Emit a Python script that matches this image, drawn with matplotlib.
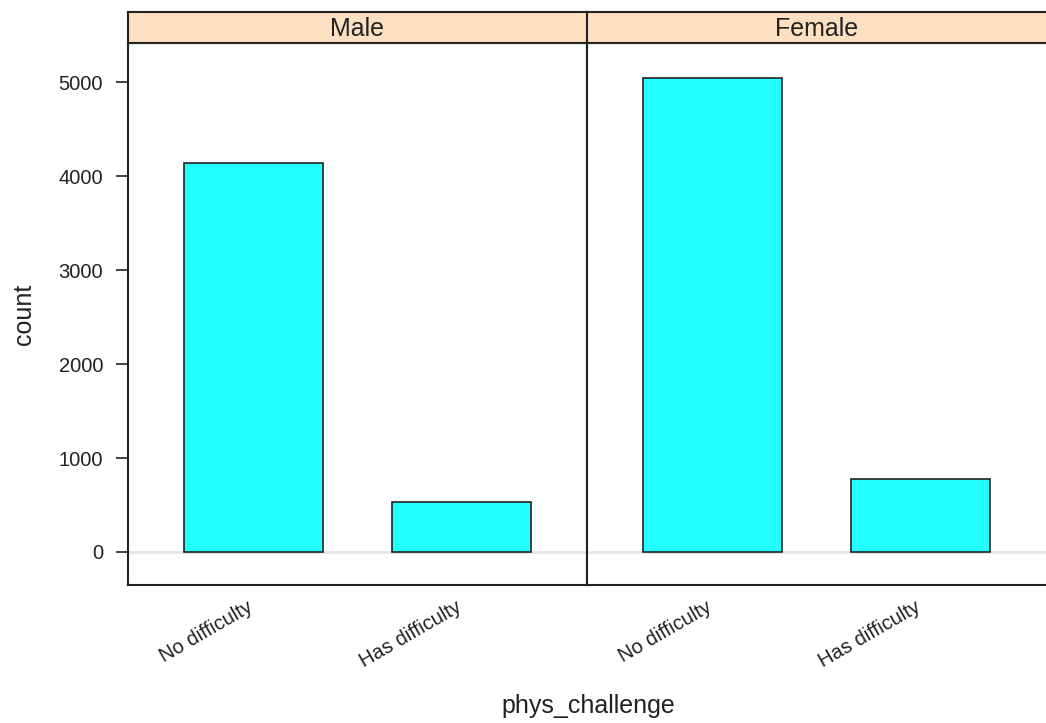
import numpy as np
import matplotlib
matplotlib.use('Agg')
import matplotlib.pyplot as plt

plt.rcParams['font.family'] = ['Liberation Sans', 'DejaVu Sans']

##############
# Chart data
##############
panels = ['Male', 'Female']
categories = ['No difficulty', 'Has difficulty']
male_counts = [4140, 535]
female_counts = [5045, 778]
yticks = [0, 1000, 2000, 3000, 4000, 5000]

counts = [male_counts, female_counts]

bar_color = '#21FFFF'
strip_color = '#FDDFC1'

W, H = 1046, 723
fig = plt.figure(figsize=(W / 100, H / 100), dpi=100)

left_px = 128
panel_w = 459
top_px = 43
bottom_px = 585
strip_top = 12

ymin, ymax = -352, 5420
x_pos = np.arange(1, len(categories) + 1)

for i, (name, vals) in enumerate(zip(panels, counts)):
    x0 = (left_px + i * panel_w) / W
    pw = panel_w + (3 if i == 1 else 0)
    ax = fig.add_axes([x0, 1 - bottom_px / H, pw / W, (bottom_px - top_px) / H])
    ax.axhline(0, color='#E6E6E6', lw=2, zorder=0)
    ax.bar(x_pos, vals, width=2 / 3, color=bar_color, edgecolor='#222222', lw=1.2, zorder=2)
    ax.set_xlim(0.4, 2.6 + (3 / panel_w * 2.2 if i == 1 else 0))
    ax.set_ylim(ymin, ymax)
    for s in ax.spines.values():
        s.set_linewidth(1.5)
        s.set_color('#222222')
    ax.set_xticks([])
    for xp, lab in zip(x_pos, categories):
        ax.annotate(lab, xy=(xp, ymin), xycoords='data',
                    xytext=(-5, -9), textcoords='offset points',
                    rotation=30, rotation_mode='anchor', ha='right', va='top',
                    fontsize=14.5, color='#222222')
    if i == 0:
        ax.set_yticks(yticks)
        ax.tick_params(axis='y', length=9, width=1.3, pad=9, labelsize=14.5,
                       color='#333333', labelcolor='#222222')
    else:
        ax.set_yticks([])

    # strip on top of each panel
    sax = fig.add_axes([x0, 1 - top_px / H, pw / W, (top_px - strip_top) / H])
    sax.set_facecolor(strip_color)
    sax.set_xticks([])
    sax.set_yticks([])
    for s in sax.spines.values():
        s.set_linewidth(1.5)
        s.set_color('#222222')
    sax.text(panel_w / pw * 0.5, 0.45, name, transform=sax.transAxes, ha='center', va='center',
             fontsize=18, color='#222222')

fig.text(24 / W, 1 - 314 / H, 'count', rotation=90, ha='center', va='center',
         fontsize=18, color='#222222')
fig.text(588 / W, 1 - 706 / H, 'phys_challenge', ha='center', va='center',
         fontsize=18, color='#222222')

plt.savefig('out.png', dpi=100)
